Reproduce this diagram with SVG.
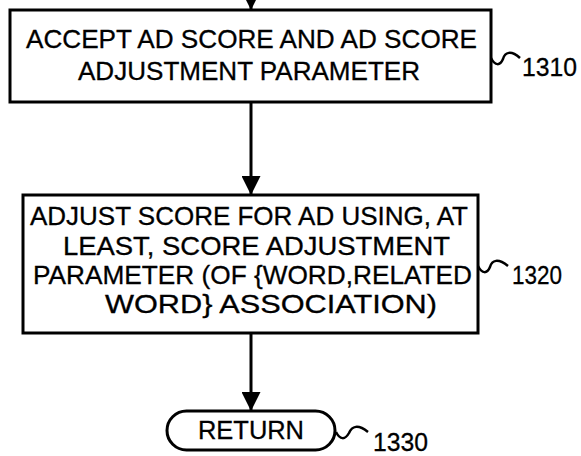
<svg xmlns="http://www.w3.org/2000/svg" width="581" height="456" viewBox="0 0 581 456">
<style>
.box{fill:#fff;stroke:#000;stroke-width:3}
.t{font-family:"Liberation Sans",Arial,sans-serif;font-size:25.5px;fill:#000;stroke:#000;stroke-width:0.3}
.ln{stroke:#000;stroke-width:3;fill:none}
.sq{stroke:#000;stroke-width:2.5;fill:none}
</style>
<defs>
<marker id="ah" markerUnits="userSpaceOnUse" markerWidth="20" markerHeight="19" refX="19" refY="9.5" orient="auto">
<path d="M0,0 L19,9.5 L0,19 Z" fill="#000"/>
</marker>
</defs>
<g id="connectors">
<line class="ln" x1="251" y1="-20" x2="251" y2="10" marker-end="url(#ah)"/>
<line class="ln" x1="251" y1="102" x2="251" y2="195" marker-end="url(#ah)"/>
<line class="ln" x1="251" y1="333" x2="251" y2="411" marker-end="url(#ah)"/>
</g>
<g id="n1310">
<rect class="box" x="10" y="10" width="481" height="92"/>
<text class="t" x="26" y="48" textLength="451" lengthAdjust="spacingAndGlyphs">ACCEPT AD SCORE AND AD SCORE</text>
<text class="t" x="78" y="80" textLength="342" lengthAdjust="spacingAndGlyphs">ADJUSTMENT PARAMETER</text>
<path class="sq" d="M491,58 C495,66 500,66 503,59 C505,52 511,50 520,58"/>
<text class="t" x="522" y="76" textLength="55" lengthAdjust="spacingAndGlyphs">1310</text>
</g>
<g id="n1320">
<rect class="box" x="23" y="195" width="455" height="138"/>
<text class="t" x="30" y="225" textLength="438" lengthAdjust="spacingAndGlyphs">ADJUST SCORE FOR AD USING, AT</text>
<text class="t" x="63" y="255" textLength="387" lengthAdjust="spacingAndGlyphs">LEAST, SCORE ADJUSTMENT</text>
<text class="t" x="33" y="284" textLength="439" lengthAdjust="spacingAndGlyphs">PARAMETER (OF {WORD,RELATED</text>
<text class="t" x="105" y="313" textLength="332" lengthAdjust="spacingAndGlyphs">WORD} ASSOCIATION)</text>
<path class="sq" d="M478,266 C482,274 487,274 490,267 C492,260 498,258 508,266"/>
<text class="t" x="512" y="284" textLength="50" lengthAdjust="spacingAndGlyphs">1320</text>
</g>
<g id="n1330">
<rect class="box" x="167" y="411" width="168" height="39" rx="19.5" ry="19.5"/>
<text class="t" x="198" y="439" textLength="106" lengthAdjust="spacingAndGlyphs">RETURN</text>
<path class="sq" d="M336,432 C340,440 345,440 349,433 C352,426 358,424 368,432"/>
<text class="t" x="373" y="451" textLength="55" lengthAdjust="spacingAndGlyphs">1330</text>
</g>
</svg>
